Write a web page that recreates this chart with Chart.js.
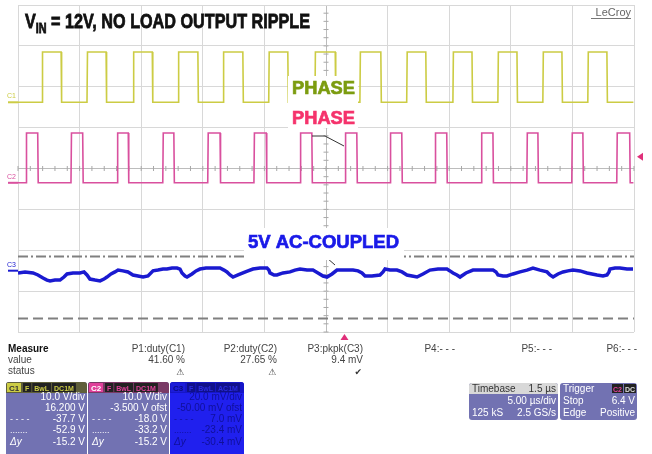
<!DOCTYPE html>
<html>
<head>
<meta charset="utf-8">
<script src="https://cdn.jsdelivr.net/npm/chart.js@4.4.1/dist/chart.umd.min.js"></script>
<style>
html, body { margin: 0; padding: 0; background: #fff; }
#wrap { width: 652px; height: 454px; }
</style>
</head>
<body>
<div id="wrap"><canvas id="scope" width="652" height="454"></canvas></div>
<script>
// time axis: screen centre = 0 us, 5 us/div, 10 divs
// C1 (phase, 10 V/div, 16.2 V offset) edge times in us
const c1Rise = [-23.05, -19.40, -15.65, -12.00, -8.35, -4.65, -0.90, 2.75, 6.55, 10.30, 13.95, 17.60, 21.25];
const c1Fall = [-21.50, -17.85, -14.10, -10.40, -6.75, -3.10, 0.75, 4.45, 8.10, 11.85, 15.50, 19.15, 22.80];
const c1Levels = [0, 12.3]; // low, high (V)

// C2 (phase, 10 V/div, -3.5 V offset)
const c2Rise = [-24.35, -20.70, -16.95, -13.25, -9.60, -5.85, -2.10, 1.55, 5.20, 8.85, 12.60, 16.30, 19.95, 23.60];
const c2Fall = [-23.40, -19.75, -16.05, -12.35, -8.60, -4.85, -1.15, 2.50, 6.15, 9.80, 13.55, 17.20, 20.85, 24.65];
const c2Levels = [0, 12.2];

// C3 (5V output ripple, 20 mV/div, AC coupled) - time (us) and mV
const c3Time = [-25.0, -24.43, -23.78, -23.38, -22.97, -22.65, -22.40, -22.00, -21.59, -21.27, -21.02, -20.54,
  -19.97, -19.64, -19.40, -19.16, -18.75, -18.34, -18.02, -17.78, -17.45, -17.13, -16.88, -16.48, -16.07,
  -15.67, -15.26, -14.85, -14.45, -14.04, -13.64, -13.23, -12.91, -12.50, -12.09, -11.85, -11.69, -11.44,
  -11.28, -10.88, -10.55, -10.23, -9.74, -9.17, -8.60, -8.28, -8.04, -7.79, -7.55, -7.14, -6.74, -6.33,
  -5.93, -5.36, -4.79, -4.63, -4.55, -4.22, -3.98, -3.49, -2.92, -2.52, -2.11, -1.54, -1.06, -0.65, -0.24,
  0.08, 0.49, 0.89, 1.54, 2.19, 2.60, 2.92, 3.17, 3.73, 4.38, 4.63, 4.79, 5.19, 5.76, 6.17, 6.57, 6.98,
  7.39, 7.87, 8.44, 9.09, 9.82, 10.06, 10.31, 10.63, 10.88, 11.36, 11.93, 12.74, 13.56, 13.80, 13.96,
  14.37, 14.69, 15.18, 15.75, 16.31, 16.80, 17.37, 17.94, 18.18, 18.43, 18.83, 19.24, 19.64, 20.05,
  20.62, 21.19, 21.59, 22.00, 22.48, 22.81, 22.97, 23.05, 23.46, 23.86, 24.43, 24.92];
const c3Ripple = [-1.1, -0.6, -1.1, -2.1, -3.6, -4.6, -5.0, -4.6, -4.6, -3.1, -1.6, -1.1,
  -1.1, -0.6, -2.1, -4.1, -4.6, -5.0, -4.1, -3.1, -1.6, -0.6, 0.3, -0.1, -0.6,
  -2.1, -2.6, -3.1, -2.6, -0.1, 0.3, 0.8, 0.8, 1.3, 1.3, 0.8, -1.1, -2.6,
  -3.1, -1.6, -0.1, 0.8, 1.3, 1.3, 1.3, 0.3, -0.6, -2.1, -3.1, -2.1, -1.1, -0.1,
  0.8, 1.3, 1.3, 0.3, -1.1, -2.1, -2.1, -1.1, -0.6, 0.3, 0.8, 0.3, 0.3, -1.1, -2.6,
  -3.1, -1.6, 0.3, 0.3, 0.3, -0.1, -1.1, -2.6, -2.6, -2.1, -0.6, 0.8, 0.3, 0.3, -0.6, -2.1, -2.6,
  -3.1, -1.6, 0.3, 0.8, 0.8, -0.1, -1.1, -2.1, -3.1, -1.1, 0.3, 0.3, 0.3, -0.6, -2.1,
  -2.6, -2.6, -1.6, -0.6, 0.3, 1.3, 0.3, -0.6, -2.1, -3.1, -1.6, -0.6, -0.1, 0.3,
  -0.1, -1.1, -1.6, -2.1, -2.6, -2.1, -0.6, 0.8, 1.3, 1.3, 0.8, 0.8];

// cursors, in C1 volts
const cursorVolts = [-37.7, -52.9];

// measurement table
const measNames = ['P1:duty(C1)', 'P2:duty(C2)', 'P3:pkpk(C3)', 'P4:- - -', 'P5:- - -', 'P6:- - -'];
const measValues = ['41.60 %', '27.65 %', '9.4 mV', '', '', ''];
const measStatus = ['\u26A0', '\u26A0', '\u2714', '', '', ''];

const c1Info = ['10.0 V/div', '16.200 V', '-37.7 V', '-52.9 V', '-15.2 V'];
const c2Info = ['10.0 V/div', '-3.500 V ofst', '-18.0 V', '-33.2 V', '-15.2 V'];
const c3Info = ['20.0 mV/div', '-50.00 mV ofst', '7.0 mV', '-23.4 mV', '-30.4 mV'];

function squareWave(rise, fall, levels) {
    const lo = levels[0], hi = levels[1];
    const pts = [{ x: -25, y: lo }];
    // sort edges into one timeline
    const edges = [];
    rise.forEach(t => edges.push({ t: t, up: true }));
    fall.forEach(t => edges.push({ t: t, up: false }));
    edges.sort((a, b) => a.t - b.t);
    edges.forEach(e => {
        if (e.up) { pts.push({ x: e.t, y: lo }); pts.push({ x: e.t + 0.04, y: hi }); }
        else { pts.push({ x: e.t, y: hi }); pts.push({ x: e.t + 0.04, y: lo }); }
    });
    pts.push({ x: 24.95, y: lo });
    return pts;
}

const c1Data = squareWave(c1Rise, c1Fall, c1Levels);
const c2Data = squareWave(c2Rise, c2Fall, c2Levels);
const c3Data = c3Time.map((t, i) => ({ x: t, y: c3Ripple[i] }));

const FONT = '"Liberation Sans", Arial, sans-serif';

function fitText(ctx, s, x, y, width, font, color) {
    ctx.save();
    ctx.font = font;
    const w = ctx.measureText(s).width;
    ctx.translate(x, y);
    ctx.scale(width / w, 1);
    ctx.fillStyle = color;
    ctx.strokeStyle = color;
    ctx.lineWidth = 0.7;
    ctx.textAlign = 'left';
    ctx.textBaseline = 'alphabetic';
    ctx.fillText(s, 0, 0);
    ctx.strokeText(s, 0, 0);
    ctx.restore();
}

function txt(ctx, s, x, y, align, font, color) {
    ctx.font = font;
    ctx.fillStyle = color;
    ctx.textAlign = align;
    ctx.textBaseline = 'alphabetic';
    ctx.fillText(s, x, y);
}

function roundRect(ctx, x, y, w, h, r, fill) {
    ctx.beginPath();
    ctx.roundRect(x, y, w, h, r);
    ctx.fillStyle = fill;
    ctx.fill();
}

function chanBox(ctx, x, w, opt) {
    const y = 382, h = 74;
    roundRect(ctx, x, y, w, h, 3, opt.body);
    roundRect(ctx, x, y, w, 11, [3, 3, 0, 0], opt.head);
    // channel tag
    ctx.fillStyle = opt.tagBg;
    ctx.fillRect(x + 1, y + 1, 14, 9);
    txt(ctx, opt.name, x + 3, y + 9, 'left', 'bold 8px ' + FONT, opt.tagFg);
    // coupling tags
    let tx = x + 17;
    opt.tags.forEach(t => {
        ctx.font = 'bold 7px ' + FONT;
        const tw = ctx.measureText(t).width + 4;
        ctx.fillStyle = opt.tagsBg;
        ctx.fillRect(tx, y + 1, tw, 9);
        txt(ctx, t, tx + 2, y + 8.5, 'left', 'bold 7px ' + FONT, opt.tagsFg);
        tx += tw + 1;
    });
    const rowsY = [400, 411, 422, 433, 445];
    opt.rows.forEach((r, i) => txt(ctx, r, x + w - 2, rowsY[i], 'right', '10px ' + FONT, opt.text));
    txt(ctx, '- - - -', x + 4, rowsY[2], 'left', '9px ' + FONT, opt.text);
    txt(ctx, '.......', x + 4, rowsY[3], 'left', '9px ' + FONT, opt.text);
    txt(ctx, '\u0394y', x + 4, rowsY[4], 'left', 'italic 10px ' + FONT, opt.text);
}

const decor = {
    id: 'decor',
    beforeDraw(chart) {
        const ctx = chart.ctx;
        ctx.save();
        ctx.fillStyle = '#ffffff';
        ctx.fillRect(0, 0, chart.width, chart.height);
        ctx.restore();
    },
    beforeDatasetsDraw(chart) {
        // minor ticks on the centre axes
        const ctx = chart.ctx, xs = chart.scales.x, ys = chart.scales.y;
        const cx = xs.getPixelForValue(0), cy = ys.getPixelForValue(0);
        ctx.save();
        ctx.strokeStyle = '#a8a8a8';
        ctx.lineWidth = 1;
        ctx.beginPath();
        for (let t = -25; t <= 25; t += 1) {
            const px = xs.getPixelForValue(t);
            ctx.moveTo(px, cy - 2.5); ctx.lineTo(px, cy + 2.5);
        }
        for (let v = -4; v <= 4; v += 0.2) {
            const py = ys.getPixelForValue(v);
            ctx.moveTo(cx - 2.5, py); ctx.lineTo(cx + 2.5, py);
        }
        ctx.stroke();
        ctx.restore();
    },
    afterDatasetsDraw(chart) {
        const ctx = chart.ctx;
        const a = chart.chartArea;
        ctx.save();

        // channel ground markers at the left edge
        const marks = [
            { axis: 'y1', name: 'C1', color: '#cccc44' },
            { axis: 'y2', name: 'C2', color: '#d9509e' },
            { axis: 'y3', name: 'C3', color: '#1a1ad0' }
        ];
        marks.forEach(m => {
            const py = chart.scales[m.axis].getPixelForValue(0);
            ctx.strokeStyle = m.color;
            ctx.lineWidth = 2;
            ctx.beginPath(); ctx.moveTo(8, py); ctx.lineTo(a.left, py); ctx.stroke();
            txt(ctx, m.name, 7, py - 4, 'left', '7px ' + FONT, m.color);
        });

        // trigger level marker (right) and trigger time marker (bottom)
        const trigY = chart.scales.y2.getPixelForValue(6.4);
        ctx.fillStyle = '#e0307a';
        ctx.beginPath(); ctx.moveTo(637, trigY); ctx.lineTo(643, trigY - 4); ctx.lineTo(643, trigY + 4); ctx.fill();
        const trigX = chart.scales.x.getPixelForValue(1.5);
        ctx.beginPath(); ctx.moveTo(trigX, a.bottom + 2); ctx.lineTo(trigX - 4, a.bottom + 8); ctx.lineTo(trigX + 4, a.bottom + 8); ctx.fill();

        // small annotation leaders
        ctx.strokeStyle = '#333';
        ctx.lineWidth = 1;
        ctx.beginPath();
        ctx.moveTo(312, 136); ctx.lineTo(325, 136); ctx.lineTo(344, 146);
        ctx.moveTo(327, 258); ctx.lineTo(335, 265);
        ctx.stroke();

        // label boxes
        ctx.fillStyle = '#ffffff';
        ctx.fillRect(288, 76, 70, 30);
        ctx.fillRect(288, 106, 70, 22);
        ctx.fillRect(244, 228, 160, 32);
        fitText(ctx, 'PHASE', 292, 94, 63, 'bold 18px ' + FONT, '#7c9c10');
        fitText(ctx, 'PHASE', 292, 124, 63, 'bold 18px ' + FONT, '#f5336c');
        fitText(ctx, '5V AC-COUPLED', 248, 248, 151, 'bold 18px ' + FONT, '#1a1ae8');

        // title
        ctx.save();
        const big = 'bold 21px ' + FONT, small = 'bold 14px ' + FONT;
        const rest = ' = 12V, NO LOAD OUTPUT RIPPLE';
        ctx.font = big; const wV = ctx.measureText('V').width; const wR = ctx.measureText(rest).width;
        ctx.font = small; const wI = ctx.measureText('IN').width;
        ctx.translate(25, 0);
        ctx.scale(285 / (wV + wI + wR), 1);
        ctx.strokeStyle = '#111';
        ctx.lineWidth = 0.8;
        txt(ctx, 'V', 0, 28, 'left', big, '#111'); ctx.strokeText('V', 0, 28);
        txt(ctx, 'IN', wV, 33, 'left', small, '#111'); ctx.strokeText('IN', wV, 33);
        txt(ctx, rest, wV + wI, 28, 'left', big, '#111'); ctx.strokeText(rest, wV + wI, 28);
        ctx.restore();

        // LeCroy logo
        txt(ctx, 'LeCroy', 631, 16, 'right', '11px ' + FONT, '#666');
        ctx.strokeStyle = '#777';
        ctx.beginPath(); ctx.moveTo(591, 18.5); ctx.lineTo(631, 18.5); ctx.stroke();

        // measurement table
        txt(ctx, 'Measure', 8, 352, 'left', 'bold 10px ' + FONT, '#111');
        txt(ctx, 'value', 8, 363, 'left', '10px ' + FONT, '#444');
        txt(ctx, 'status', 8, 374, 'left', '10px ' + FONT, '#444');
        const colRight = [185, 277, 363, 455, 552, 637];
        measNames.forEach((n, i) => {
            txt(ctx, n, colRight[i], 352, 'right', '10px ' + FONT, '#444');
            txt(ctx, measValues[i], colRight[i], 363, 'right', '10px ' + FONT, '#444');
            txt(ctx, measStatus[i], colRight[i] - 1, 375, 'right', '9px "DejaVu Sans"', '#333');
        });

        // channel boxes
        chanBox(ctx, 6, 81, { name: 'C1', head: '#5f5f3a', tagBg: '#cccc44', tagFg: '#333', tags: ['F', 'BwL', 'DC1M'],
            tagsBg: '#222', tagsFg: '#cccc44', body: '#7272b2', text: '#ffffff', rows: c1Info });
        chanBox(ctx, 88, 81, { name: 'C2', head: '#7a3a66', tagBg: '#e0409a', tagFg: '#fff', tags: ['F', 'BwL', 'DC1M'],
            tagsBg: '#222', tagsFg: '#e0409a', body: '#7272b2', text: '#ffffff', rows: c2Info });
        chanBox(ctx, 170, 74, { name: 'C3', head: '#1616c8', tagBg: '#1c1cd8', tagFg: '#0a0a80', tags: ['F', 'BwL', 'AC1M'],
            tagsBg: '#10108a', tagsFg: '#2a2ae0', body: '#2020ee', text: '#10109a', rows: c3Info });

        // timebase box
        roundRect(ctx, 469, 383, 89, 37, 3, '#7272b2');
        roundRect(ctx, 469, 383, 89, 11, [3, 3, 0, 0], '#d8d8d8');
        txt(ctx, 'Timebase', 472, 392, 'left', '10px ' + FONT, '#333');
        txt(ctx, '1.5 \u00b5s', 556, 392, 'right', '10px ' + FONT, '#333');
        txt(ctx, '5.00 \u00b5s/div', 556, 404, 'right', '10px ' + FONT, '#fff');
        txt(ctx, '125 kS', 472, 416, 'left', '10px ' + FONT, '#fff');
        txt(ctx, '2.5 GS/s', 556, 416, 'right', '10px ' + FONT, '#fff');

        // trigger box
        roundRect(ctx, 560, 383, 77, 37, 3, '#7272b2');
        txt(ctx, 'Trigger', 563, 392, 'left', '10px ' + FONT, '#fff');
        ctx.fillStyle = '#222';
        ctx.fillRect(612, 384, 11, 9);
        ctx.fillRect(624, 384, 12, 9);
        txt(ctx, 'C2', 613, 391.5, 'left', 'bold 7px ' + FONT, '#e0409a');
        txt(ctx, 'DC', 625, 391.5, 'left', 'bold 7px ' + FONT, '#ddd');
        txt(ctx, 'Stop', 563, 404, 'left', '10px ' + FONT, '#fff');
        txt(ctx, '6.4 V', 635, 404, 'right', '10px ' + FONT, '#fff');
        txt(ctx, 'Edge', 563, 416, 'left', '10px ' + FONT, '#fff');
        txt(ctx, 'Positive', 635, 416, 'right', '10px ' + FONT, '#fff');

        ctx.restore();
    }
};

const gridColor = c => (c.tick && c.tick.value === 0) ? '#bcbcbc' : '#d8d8d8';

new Chart(document.getElementById('scope'), {
    type: 'scatter',
    data: {
        datasets: [
            { label: 'C1', data: c1Data, yAxisID: 'y1', showLine: true, borderColor: '#cccc44', borderWidth: 1.6, pointRadius: 0 },
            { label: 'C2', data: c2Data, yAxisID: 'y2', showLine: true, borderColor: '#d9509e', borderWidth: 1.6, pointRadius: 0 },
            { label: 'C3', data: c3Data, yAxisID: 'y3', showLine: true, borderColor: '#1a1ad0', borderWidth: 3.5, pointRadius: 0 },
            { label: 'cursor1', data: [{ x: -25, y: cursorVolts[0] }, { x: 25, y: cursorVolts[0] }], yAxisID: 'y1', showLine: true,
              borderColor: '#808080', borderWidth: 2, borderDash: [10, 3, 2, 3], pointRadius: 0 },
            { label: 'cursor2', data: [{ x: -25, y: cursorVolts[1] }, { x: 25, y: cursorVolts[1] }], yAxisID: 'y1', showLine: true,
              borderColor: '#808080', borderWidth: 2, borderDash: [10, 5], pointRadius: 0 }
        ]
    },
    options: {
        responsive: false,
        animation: false,
        devicePixelRatio: 1,
        events: [],
        layout: { padding: { left: 18, right: 18, top: 5, bottom: 122 } },
        plugins: { legend: { display: false }, tooltip: { enabled: false } },
        scales: {
            x: { type: 'linear', min: -25, max: 25, ticks: { display: false, stepSize: 5 },
                 grid: { color: gridColor, drawTicks: false }, border: { display: false } },
            y: { type: 'linear', min: -4, max: 4, ticks: { display: false, stepSize: 1 },
                 grid: { color: gridColor, drawTicks: false }, border: { display: false } },
            y1: { display: false, min: -56.2, max: 23.8 },
            y2: { display: false, min: -36.5, max: 43.5 },
            y3: { display: false, min: -30, max: 130 }
        }
    },
    plugins: [decor]
});
</script>
</body>
</html>
